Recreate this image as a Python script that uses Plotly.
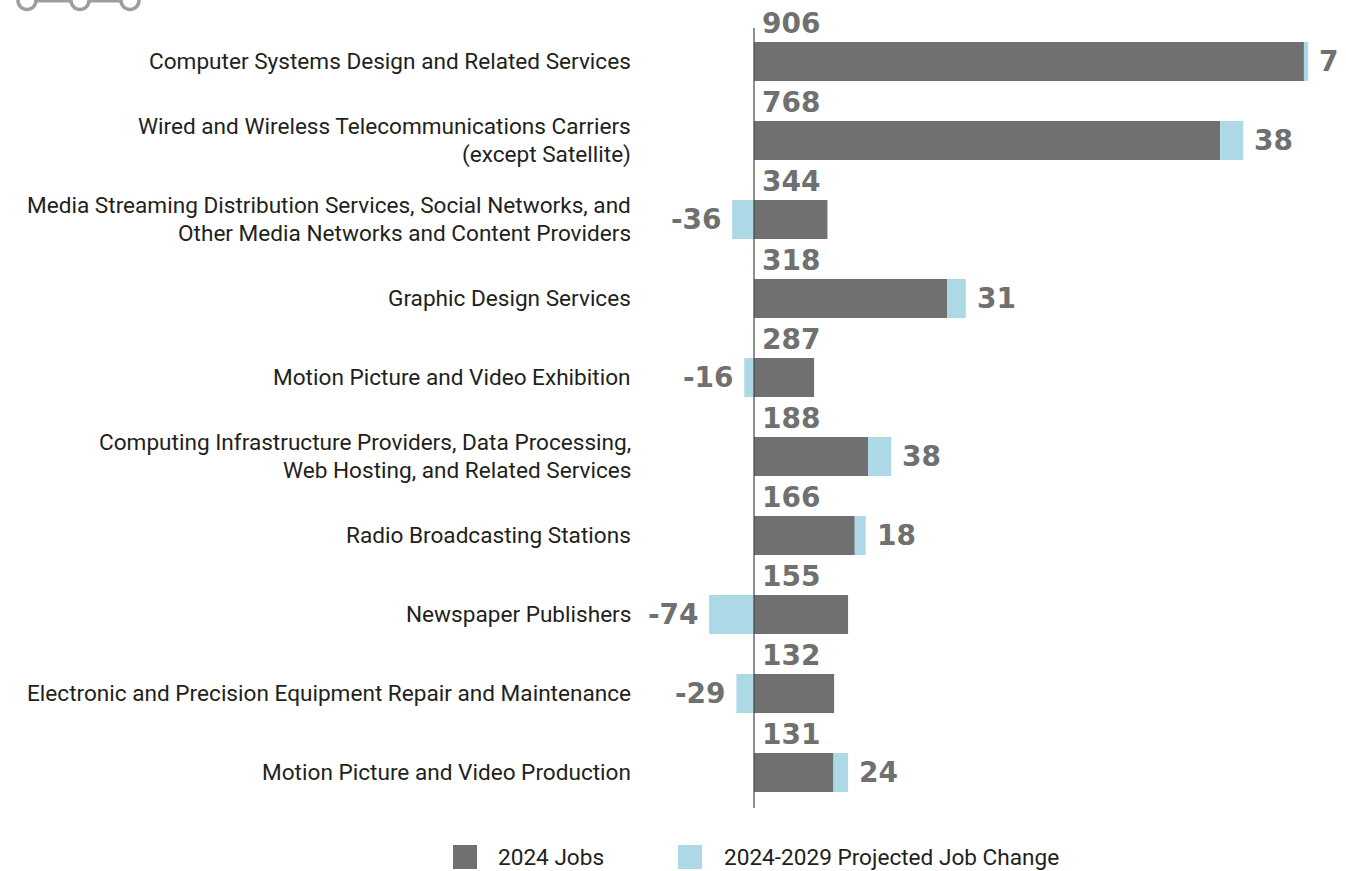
import plotly.graph_objects as go

# ---------------- data ----------------
categories = [
    "Computer Systems Design and Related Services",
    "Wired and Wireless Telecommunications Carriers<br>(except Satellite)",
    "Media Streaming Distribution Services, Social Networks, and<br>Other Media Networks and Content Providers",
    "Graphic Design Services",
    "Motion Picture and Video Exhibition",
    "Computing Infrastructure Providers, Data Processing,<br>Web Hosting, and Related Services",
    "Radio Broadcasting Stations",
    "Newspaper Publishers",
    "Electronic and Precision Equipment Repair and Maintenance",
    "Motion Picture and Video Production",
]
jobs_2024_labels = [906, 768, 344, 318, 287, 188, 166, 155, 132, 131]
# bar lengths as drawn in the source picture (two bars are drawn shorter than their label)
jobs_2024_bars = [906, 768, 121, 318, 99, 188, 166, 155, 132, 131]
job_change = [7, 38, -36, 31, -16, 38, 18, -74, -29, 24]

legend_names = ["2024 Jobs", "2024-2029 Projected Job Change"]

# ---------------- style / layout ----------------
W, H = 1346, 871
ML, MR, MT, MB = 640, 6, 22, 59
PW, PH = W - ML - MR, H - MT - MB
ZERO_PX = 754
SCALE = 0.607  # px per unit
x0 = -(ZERO_PX - ML) / SCALE
x1 = x0 + PW / SCALE

GRAY = "#6f706f"
BLUE = "#add8e6"
NUM_COLOR = "#707070"
TXT_COLOR = "#231f20"
LABEL_FONT = "Roboto, sans-serif"
LABEL_SIZE = 22.6
NUM_FONT = "DejaVu Sans, sans-serif"


def px_x(p):
    return (p - ML) / PW


def px_y(p):
    return (H - MB - p) / PH


idx = list(range(len(categories)))

fig = go.Figure()
fig.add_trace(go.Bar(
    y=idx, x=jobs_2024_bars, orientation="h", width=0.494,
    marker=dict(color=GRAY, line=dict(width=0)), name=legend_names[0],
    showlegend=False, hoverinfo="skip",
))
change_base = [b if c > 0 else 0 for b, c in zip(jobs_2024_bars, job_change)]
fig.add_trace(go.Bar(
    y=idx, x=job_change, base=change_base, orientation="h", width=0.494,
    marker=dict(color=BLUE, line=dict(width=0)), name=legend_names[1],
    showlegend=False, hoverinfo="skip",
))

annotations = []
for i, (cat, lab, bar, ch) in enumerate(zip(categories, jobs_2024_labels, jobs_2024_bars, job_change)):
    # category label (each line placed separately for tighter line spacing)
    lines = cat.split("<br>")
    n = len(lines)
    for k, line in enumerate(lines):
        annotations.append(dict(
            x=px_x(633), xref="paper", y=i, yref="y", text=line, showarrow=False,
            xanchor="right", yanchor="middle", align="right",
            yshift=-(k - (n - 1) / 2) * 27.5,
            font=dict(family=LABEL_FONT, size=LABEL_SIZE, color=TXT_COLOR),
        ))
    # 2024 jobs value label (above bar)
    annotations.append(dict(
        x=0, xref="x", y=i - 0.475, yref="y", text=f"<b>{lab}</b>", showarrow=False,
        xanchor="left", yanchor="middle", xshift=6,
        font=dict(family=NUM_FONT, size=28, color=NUM_COLOR),
    ))
    # change label
    if ch > 0:
        annotations.append(dict(
            x=bar + ch, xref="x", y=i, yref="y", text=f"<b>{ch}</b>", showarrow=False,
            xanchor="left", yanchor="middle", xshift=9,
            font=dict(family=NUM_FONT, size=28, color=NUM_COLOR),
        ))
    else:
        annotations.append(dict(
            x=ch, xref="x", y=i, yref="y", text=f"<b>{ch}</b>", showarrow=False,
            xanchor="right", yanchor="middle", xshift=-8,
            font=dict(family=NUM_FONT, size=28, color=NUM_COLOR),
        ))

# legend (manual)
legend_items = [(453, 496, GRAY, legend_names[0]), (678, 722, BLUE, legend_names[1])]
shapes = []
for sq_x, tx_x, col, name in legend_items:
    shapes.append(dict(type="rect", xref="paper", yref="paper",
                       x0=px_x(sq_x), x1=px_x(sq_x + 24), y0=px_y(869), y1=px_y(845),
                       fillcolor=col, line=dict(width=0)))
    annotations.append(dict(x=px_x(tx_x), xref="paper", y=px_y(857), yref="paper",
                            text=name, showarrow=False, xanchor="left", yanchor="middle",
                            font=dict(family=LABEL_FONT, size=LABEL_SIZE, color=TXT_COLOR)))

# axis line
shapes.append(dict(type="line", xref="x", yref="paper", x0=0, x1=0,
                   y0=px_y(808), y1=px_y(28), line=dict(color="#444444", width=1.2),
                   layer="above"))

# decorative icon top-left (partially cut off)
ICON = "#9d9d9d"
for cx in [27, 80, 130]:
    shapes.append(dict(type="circle", xref="paper", yref="paper",
                       x0=px_x(cx - 9), x1=px_x(cx + 9), y0=px_y(9.5), y1=px_y(-8.5),
                       line=dict(color=ICON, width=3.5)))
for a, b in [(36, 71), (89, 121)]:
    shapes.append(dict(type="line", xref="paper", yref="paper",
                       x0=px_x(a), x1=px_x(b), y0=px_y(0.5), y1=px_y(0.5),
                       line=dict(color=ICON, width=4)))

fig.update_layout(
    width=W, height=H,
    margin=dict(l=ML, r=MR, t=MT, b=MB, pad=0),
    paper_bgcolor="white", plot_bgcolor="white",
    barmode="overlay",
    xaxis=dict(range=[x0, x1], visible=False, fixedrange=True),
    yaxis=dict(range=[9.5, -0.5], visible=False, fixedrange=True),
    annotations=annotations, shapes=shapes,
    showlegend=False,
)

fig.write_html("out.html", config={"displayModeBar": False},
               post_script="document.body.style.margin='0';document.body.style.overflow='hidden';")
